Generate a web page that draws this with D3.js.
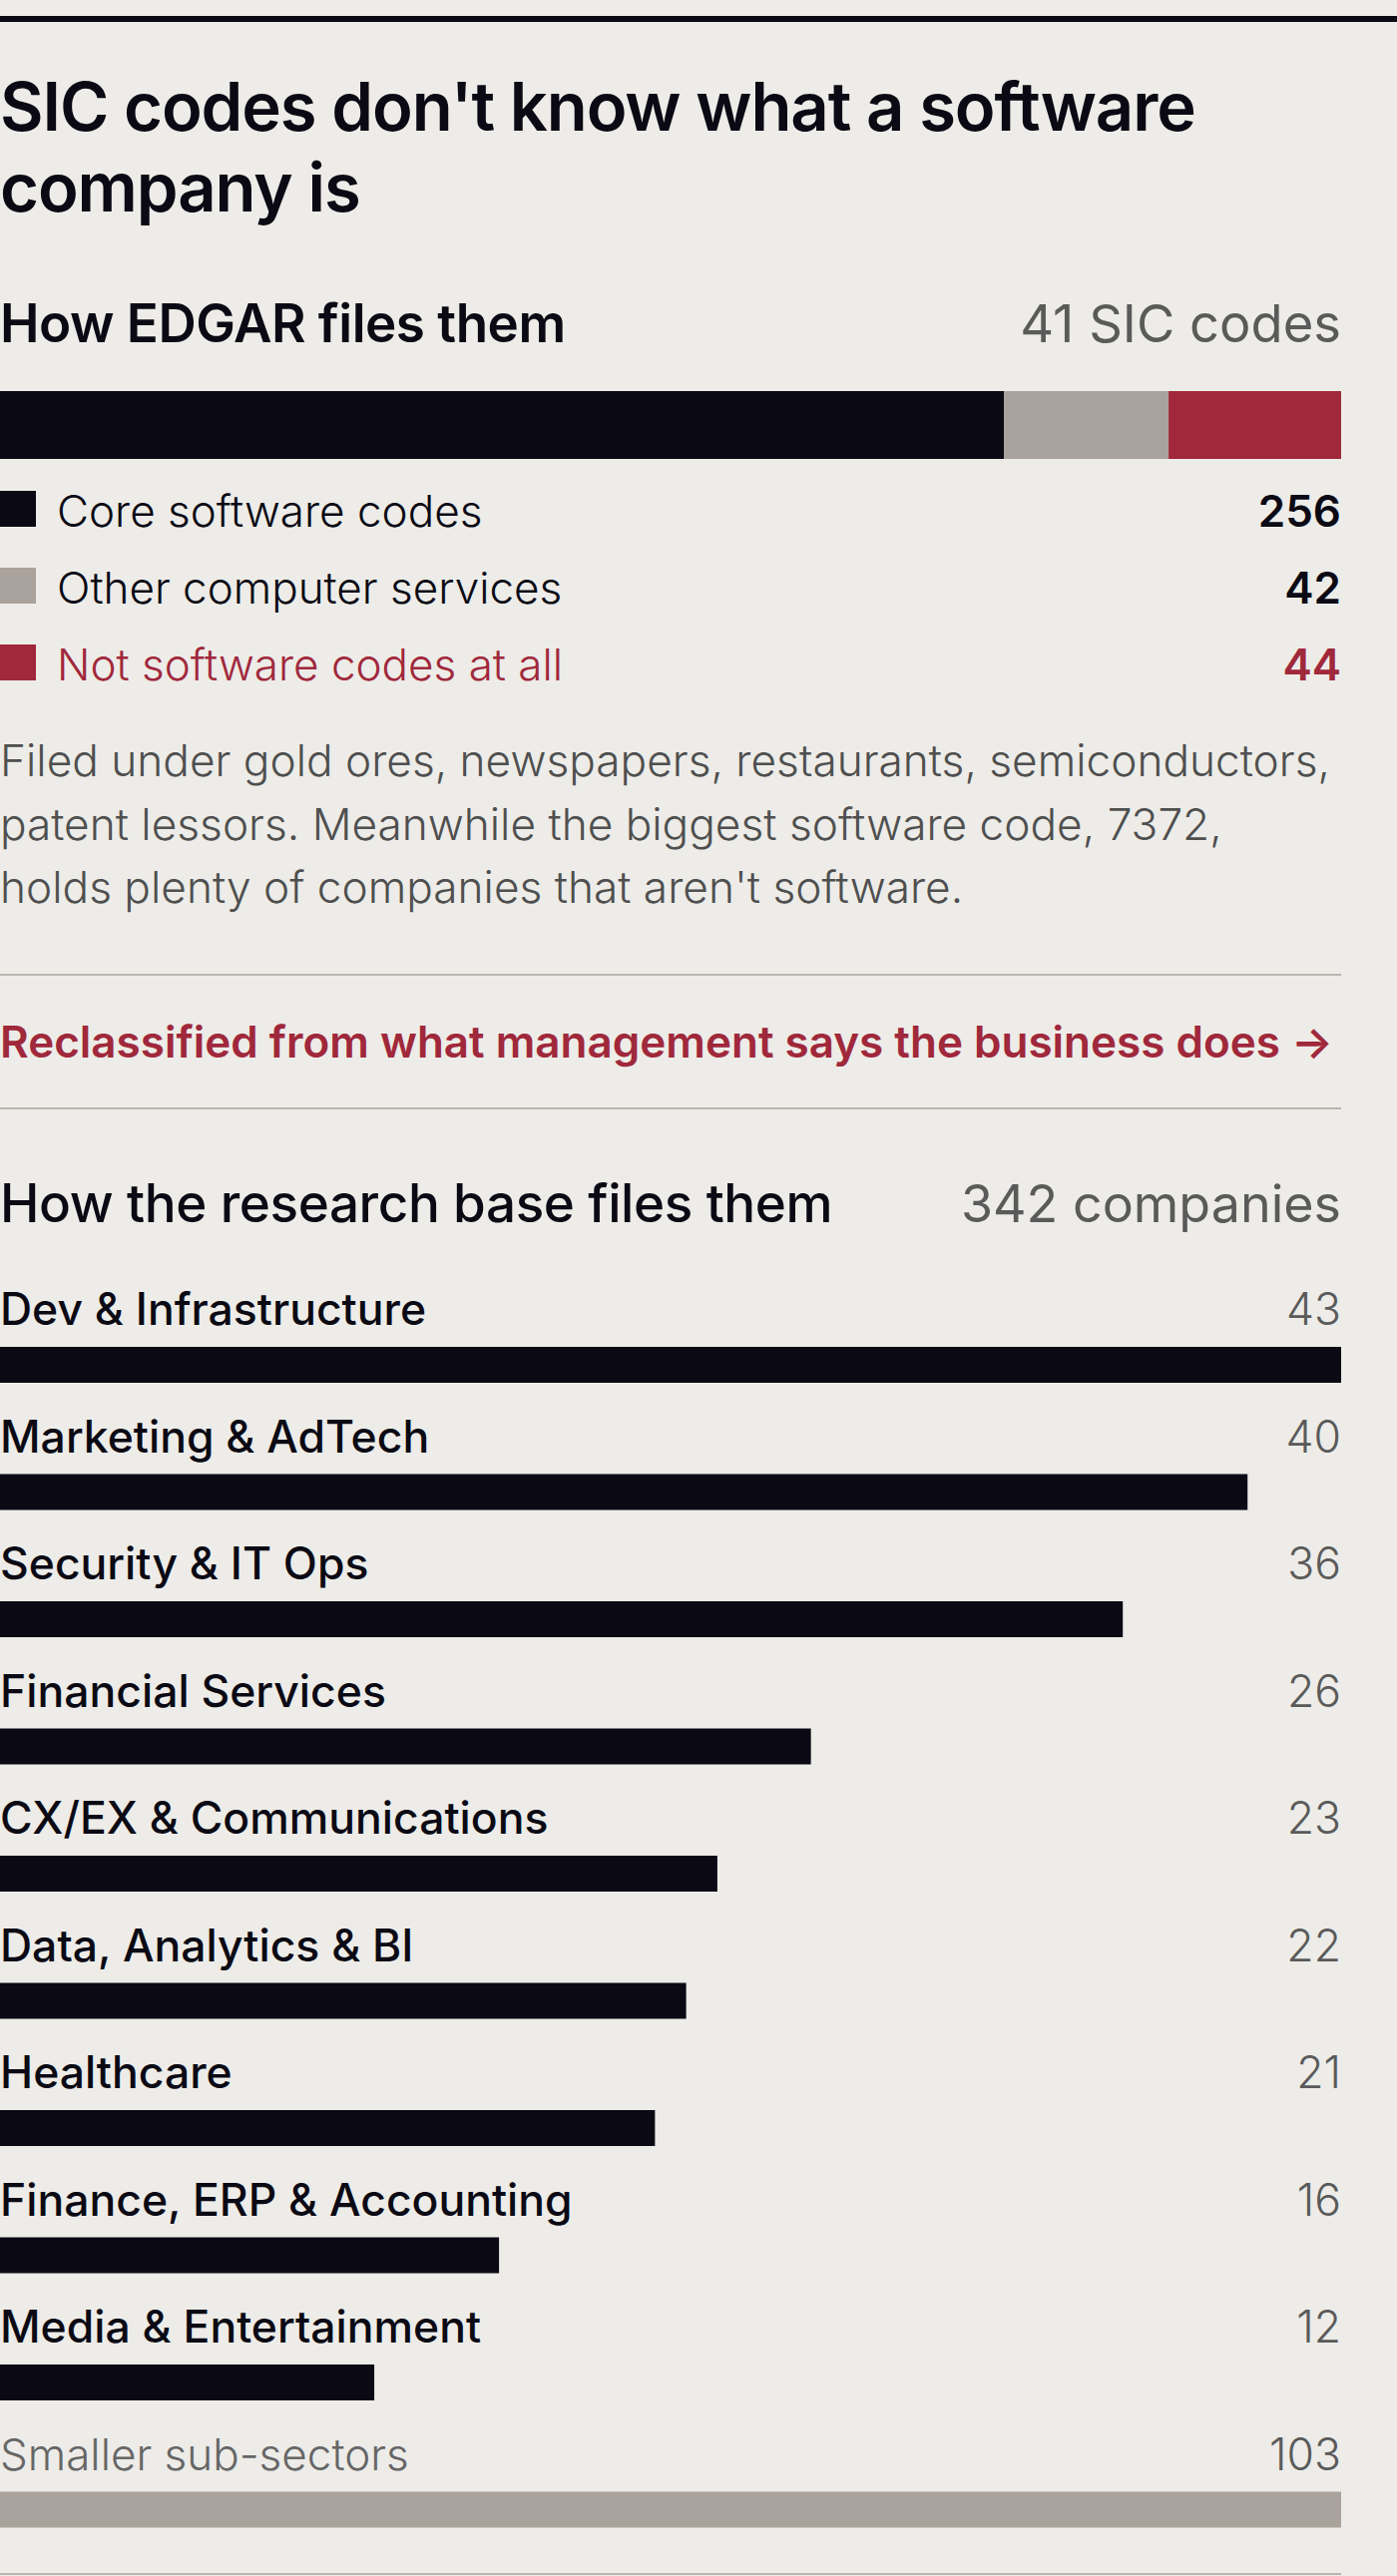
<!DOCTYPE html>
<html>
<head>
<meta charset="utf-8">
<script src="https://cdn.jsdelivr.net/npm/d3@7"></script>
<style>
  html, body { margin: 0; padding: 0; background: #edece8; }
  svg { display: block; font-family: Inter, "Noto Sans", sans-serif; }
</style>
</head>
<body>
<div id="chart"></div>
<script>
// EDGAR split of the 342 companies
var sicGroups = ['Core software codes', 'Other computer services', 'Not software codes at all']
var sicCounts = [256, 42, 44]
var sicColors = ['#0b0a14', '#aaa29c', '#a0283b']

// research base sectors
var sectorNames = ['Dev & Infrastructure', 'Marketing & AdTech', 'Security & IT Ops', 'Financial Services',
  'CX/EX & Communications', 'Data, Analytics & BI', 'Healthcare', 'Finance, ERP & Accounting', 'Media & Entertainment']
var sectorCounts = [43, 40, 36, 26, 23, 22, 21, 16, 12]
var otherName = 'Smaller sub-sectors'
var otherCount = 103

var noteLines = [
  'Filed under gold ores, newspapers, restaurants, semiconductors,',
  'patent lessors. Meanwhile the biggest software code, 7372,',
  "holds plenty of companies that aren't software."
]

var W = 1400, H = 2582, chartW = 1344
var dark = '#0b0a14', grey = '#5a5a5a', rule = '#b7b5ae', red = '#a0283b'

var svg = d3.select('#chart').append('svg')
  .attr('width', W)
  .attr('height', H)

svg.append('rect').attr('width', W).attr('height', H).attr('fill', '#edece8')

// top rule
svg.append('rect').attr('x', 0).attr('y', 16).attr('width', W).attr('height', 6).attr('fill', dark)

// title
var title = svg.append('text')
  .attr('font-size', 67)
  .attr('font-weight', 600)
  .attr('fill', dark)
  .attr('letter-spacing', -1.1)
title.append('tspan').attr('x', 0).attr('y', 131).text("SIC codes don't know what a software")
title.append('tspan').attr('x', 0).attr('y', 212).text('company is')

// ---- section 1
svg.append('text')
  .attr('x', 0).attr('y', 343)
  .attr('font-size', 53).attr('font-weight', 600).attr('fill', dark)
  .attr('letter-spacing', -0.5)
  .text('How EDGAR files them')

svg.append('text')
  .attr('x', chartW).attr('y', 343)
  .attr('text-anchor', 'end')
  .attr('font-size', 52.5).attr('font-weight', 400).attr('fill', grey)
  .text('41 SIC codes')

var total = d3.sum(sicCounts)
var xs = d3.scaleLinear().domain([0, total]).range([0, chartW])

var stack = []
var acc = 0
for (var i = 0; i < sicCounts.length; i++) {
  stack.push({ name: sicGroups[i], value: sicCounts[i], start: acc, color: sicColors[i] })
  acc += sicCounts[i]
}

svg.selectAll('rect.seg')
  .data(stack)
  .enter()
  .append('rect')
  .attr('class', 'seg')
  .attr('x', function(d){ return xs(d.start) })
  .attr('y', 392)
  .attr('width', function(d){ return xs(d.start + d.value) - xs(d.start) })
  .attr('height', 68)
  .attr('fill', function(d){ return d.color })

var legendY = d3.scalePoint().domain(sicGroups).range([492, 646])

var legend = svg.selectAll('g.legend')
  .data(stack)
  .enter()
  .append('g')
  .attr('class', 'legend')
  .attr('transform', function(d){ return 'translate(0,' + legendY(d.name) + ')' })

legend.append('rect')
  .attr('width', 36).attr('height', 36)
  .attr('fill', function(d){ return d.color })

legend.append('text')
  .attr('x', 57).attr('y', 36)
  .attr('font-size', 44).attr('font-weight', 300)
  .attr('fill', function(d, i){ return i === 2 ? red : dark })
  .text(function(d){ return d.name })

legend.append('text')
  .attr('x', chartW).attr('y', 36)
  .attr('text-anchor', 'end')
  .attr('font-size', 44).attr('font-weight', 600)
  .attr('fill', function(d, i){ return i === 2 ? red : dark })
  .text(function(d){ return d.value })

var note = svg.append('text')
  .attr('font-size', 44.2).attr('font-weight', 300).attr('fill', '#4f4f4f')
note.selectAll('tspan')
  .data(noteLines)
  .enter()
  .append('tspan')
  .attr('x', 0)
  .attr('y', function(d, i){ return 778 + i * 63.5 })
  .text(function(d){ return d })

svg.append('rect').attr('x', 0).attr('y', 976).attr('width', chartW).attr('height', 2).attr('fill', rule)

svg.append('text')
  .attr('x', 0).attr('y', 1060)
  .attr('font-size', 44).attr('font-weight', 600).attr('fill', red)
  .text('Reclassified from what management says the business does \u2192')

svg.append('rect').attr('x', 0).attr('y', 1110).attr('width', chartW).attr('height', 2).attr('fill', rule)

// ---- section 2
svg.append('text')
  .attr('x', 0).attr('y', 1225)
  .attr('font-size', 53).attr('font-weight', 500).attr('fill', dark)
  .attr('letter-spacing', -0.4)
  .text('How the research base files them')

svg.append('text')
  .attr('x', chartW).attr('y', 1225)
  .attr('text-anchor', 'end')
  .attr('font-size', 52).attr('font-weight', 400).attr('fill', grey)
  .text(d3.sum(sectorCounts) + otherCount + ' companies')

var rows = sectorNames.map(function(n, i){ return { name: n, value: sectorCounts[i], other: false } })
rows.push({ name: otherName, value: otherCount, other: true })

var y = d3.scaleBand().domain(rows.map(function(d){ return d.name })).range([1306, 1306 + rows.length * 127.5])
var x = d3.scaleLinear().domain([0, d3.max(sectorCounts)]).range([0, chartW]).clamp(true)

var row = svg.selectAll('g.row')
  .data(rows)
  .enter()
  .append('g')
  .attr('class', 'row')
  .attr('transform', function(d){ return 'translate(0,' + y(d.name) + ')' })

row.append('text')
  .attr('x', 0).attr('y', 22)
  .attr('font-size', function(d){ return d.other ? 44 : 44.5 })
  .attr('font-weight', function(d){ return d.other ? 300 : 500 })
  .attr('fill', function(d){ return d.other ? '#666' : dark })
  .text(function(d){ return d.name })

row.append('text')
  .attr('x', chartW).attr('y', 22)
  .attr('text-anchor', 'end')
  .attr('font-size', 44.5).attr('font-weight', 300).attr('fill', grey)
  .text(function(d){ return d.value })

row.append('rect')
  .attr('x', 0).attr('y', 44)
  .attr('width', function(d){ return x(d.value) })
  .attr('height', 36)
  .attr('fill', function(d){ return d.other ? '#aaa29c' : dark })

svg.append('rect').attr('x', 0).attr('y', 2579).attr('width', chartW).attr('height', 2).attr('fill', rule)
</script>
</body>
</html>
